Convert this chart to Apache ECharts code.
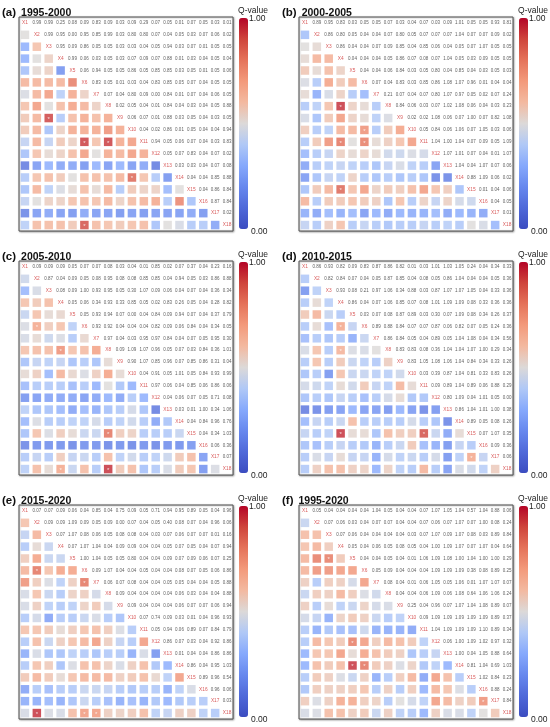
<!DOCTYPE html>
<html>
<head>
<meta charset="utf-8">
<title>Q-value matrices</title>
<script src="https://cdn.jsdelivr.net/npm/echarts@6/dist/echarts.min.js"></script>
<style>
  body { margin: 0; background: #fff; }
  #main { width: 550px; height: 727px; }
</style>
</head>
<body>
<div id="main"></div>
<script>
var labels = ['X1','X2','X3','X4','X5','X6','X7','X8','X9','X10','X11','X12','X13','X14','X15','X16','X17','X18'];
var letters = ['(a)','(b)','(c)','(d)','(e)','(f)'];
var periods = ['1995-2000','2000-2005','2005-2010','2010-2015','2015-2020','1995-2020'];

// lower triangle: row X2..X18, columns X1..X(row-1)
var qA = [
  [0.5],
  [0.3,0.6],
  [0.3,0.5,0.55],
  [0.35,0.52,0.55,0.2],
  [0.65,0.65,0.65,0.65,0.8],
  [0.48,0.65,0.72,0.4,0.68,0.55],
  [0.6,0.72,0.5,0.62,0.7,0.65,0.55],
  [0.58,0.65,0.92,0.38,0.62,0.68,0.62,0.68],
  [0.58,0.65,0.35,0.55,0.68,0.68,0.68,0.75,0.68],
  [0.42,0.65,0.42,0.58,0.55,0.93,0.6,0.93,0.68,0.72],
  [0.35,0.6,0.52,0.55,0.62,0.72,0.5,0.68,0.65,0.72,0.68],
  [0.12,0.22,0.3,0.25,0.25,0.2,0.3,0.22,0.3,0.22,0.25,0.12],
  [0.38,0.6,0.62,0.58,0.5,0.62,0.62,0.62,0.65,0.85,0.6,0.38,0.2],
  [0.35,0.65,0.4,0.48,0.52,0.62,0.52,0.65,0.38,0.58,0.55,0.55,0.32,0.5],
  [0.42,0.5,0.55,0.55,0.6,0.62,0.6,0.65,0.55,0.62,0.65,0.68,0.38,0.78,0.35],
  [0.15,0.22,0.25,0.22,0.2,0.25,0.22,0.22,0.2,0.22,0.2,0.22,0.22,0.22,0.25,0.2],
  [0.4,0.62,0.62,0.62,0.58,0.9,0.62,0.6,0.58,0.6,0.62,0.35,0.5,0.47,0.38,0.38,0.25]
];
// upper triangle: row X1..X17, columns X(row+1)..X18
var pA = [
  [0.99,0.99,0.25,0.08,0.09,0.83,0.09,0.03,0.09,0.29,0.07,0.05,0.01,0.07,0.05,0.03,0.01],
  [0.99,0.95,0.00,0.95,0.85,0.99,0.03,0.80,0.80,0.07,0.04,0.05,0.03,0.07,0.06,0.02],
  [0.95,0.09,0.86,0.05,0.05,0.03,0.03,0.04,0.05,0.94,0.03,0.07,0.01,0.05,0.05],
  [0.99,0.06,0.03,0.05,0.03,0.07,0.09,0.07,0.88,0.01,0.03,0.04,0.05,0.04],
  [0.06,0.94,0.05,0.05,0.86,0.05,0.85,0.85,0.03,0.05,0.01,0.05,0.06],
  [0.83,0.05,0.01,0.03,0.04,0.83,0.85,0.05,0.07,0.04,0.05,0.05],
  [0.07,0.04,0.80,0.09,0.00,0.84,0.01,0.07,0.04,0.06,0.05],
  [0.02,0.05,0.04,0.01,0.84,0.04,0.03,0.04,0.05,0.88],
  [0.06,0.07,0.01,0.88,0.03,0.05,0.04,0.03,0.05],
  [0.04,0.02,0.86,0.01,0.05,0.04,0.04,0.94],
  [0.94,0.05,0.06,0.07,0.04,0.03,0.83],
  [0.05,0.07,0.83,0.04,0.07,0.02],
  [0.03,0.03,0.04,0.07,0.08],
  [0.04,0.04,0.85,0.88],
  [0.04,0.86,0.84],
  [0.87,0.84],
  [0.02]
];
var starA = [[9,3],[11,6],[11,8],[14,10],[18,6]];

var qB = [
  [0.35],
  [0.5,0.52],
  [0.52,0.65,0.65],
  [0.58,0.52,0.62,0.55],
  [0.48,0.38,0.7,0.58,0.65],
  [0.52,0.28,0.47,0.55,0.38,0.32],
  [0.38,0.4,0.6,0.95,0.55,0.52,0.38],
  [0.47,0.35,0.58,0.72,0.55,0.52,0.4,0.48],
  [0.57,0.38,0.4,0.65,0.65,0.75,0.38,0.58,0.7],
  [0.38,0.58,0.75,0.82,0.5,0.8,0.52,0.56,0.6,0.72],
  [0.32,0.38,0.42,0.55,0.52,0.55,0.52,0.45,0.44,0.48,0.46],
  [0.25,0.38,0.4,0.42,0.4,0.38,0.35,0.42,0.47,0.4,0.38,0.22],
  [0.22,0.35,0.42,0.4,0.55,0.38,0.35,0.38,0.35,0.38,0.35,0.15,0.15],
  [0.35,0.58,0.65,0.85,0.6,0.72,0.55,0.58,0.57,0.62,0.72,0.6,0.57,0.35],
  [0.65,0.38,0.58,0.58,0.6,0.58,0.56,0.35,0.6,0.38,0.55,0.42,0.55,0.46,0.44],
  [0.28,0.25,0.32,0.28,0.32,0.22,0.3,0.25,0.3,0.28,0.28,0.32,0.25,0.3,0.28,0.25],
  [0.42,0.38,0.56,0.6,0.38,0.42,0.38,0.36,0.38,0.38,0.42,0.38,0.4,0.38,0.5,0.47,0.32]
];
var pB = [
  [0.89,0.95,0.83,0.03,0.05,0.05,0.07,0.03,0.04,0.07,0.03,0.09,1.01,0.05,0.05,0.93,0.81],
  [0.86,0.80,0.05,0.04,0.04,0.07,0.80,0.05,0.07,0.07,0.07,1.04,0.07,0.07,0.09,0.02],
  [0.86,0.04,0.04,0.07,0.09,0.85,0.04,0.85,0.06,0.04,0.05,0.07,1.07,0.05,0.05],
  [0.04,0.04,0.04,0.05,0.86,0.07,0.08,0.07,1.04,0.05,0.03,0.09,0.05,0.05],
  [0.04,0.04,0.06,0.84,0.03,0.05,0.80,0.04,0.85,0.04,0.03,0.05,0.03],
  [0.07,0.04,0.83,0.03,0.85,0.86,1.08,1.07,0.96,0.01,0.04,0.04],
  [0.21,0.07,0.04,0.07,0.80,1.07,0.97,0.05,0.02,0.07,0.24],
  [0.84,0.06,0.03,0.07,1.02,1.08,0.06,0.04,0.03,0.23],
  [0.02,0.02,1.08,0.06,0.07,1.00,0.07,0.82,1.08],
  [0.05,0.84,0.06,1.06,0.07,1.05,0.03,0.06],
  [1.04,1.00,1.04,0.07,0.09,0.05,1.09],
  [1.07,1.01,0.07,0.04,0.01,1.07],
  [1.04,0.04,1.07,0.07,0.06],
  [0.88,1.09,0.06,0.02],
  [0.01,0.04,0.06],
  [0.04,0.05],
  [0.01]
];
var starB = [[8,4],[10,6],[11,4],[11,6],[15,4]];

var qC = [
  [0.45],
  [0.32,0.47],
  [0.6,0.58,0.62],
  [0.43,0.6,0.52,0.53],
  [0.48,0.68,0.57,0.6,0.4],
  [0.47,0.52,0.44,0.48,0.38,0.53],
  [0.6,0.62,0.62,0.75,0.6,0.62,0.7],
  [0.35,0.42,0.4,0.42,0.35,0.38,0.35,0.52],
  [0.52,0.56,0.32,0.65,0.53,0.48,0.56,0.7,0.52],
  [0.33,0.38,0.38,0.38,0.33,0.38,0.3,0.5,0.36,0.3],
  [0.2,0.22,0.25,0.25,0.25,0.22,0.25,0.3,0.25,0.38,0.3],
  [0.4,0.35,0.35,0.32,0.25,0.32,0.28,0.35,0.38,0.46,0.35,0.12],
  [0.32,0.48,0.38,0.38,0.4,0.4,0.46,0.38,0.4,0.45,0.38,0.25,0.36],
  [0.35,0.6,0.48,0.57,0.52,0.43,0.43,0.82,0.57,0.55,0.38,0.38,0.38,0.43],
  [0.15,0.18,0.18,0.18,0.15,0.18,0.18,0.15,0.18,0.15,0.18,0.15,0.18,0.18,0.2],
  [0.38,0.42,0.38,0.57,0.42,0.43,0.38,0.62,0.4,0.45,0.38,0.4,0.44,0.58,0.62,0.22],
  [0.4,0.62,0.52,0.68,0.43,0.62,0.38,0.95,0.58,0.62,0.35,0.38,0.47,0.58,0.6,0.2,0.48]
];
var pC = [
  [0.09,0.09,0.09,0.05,0.07,0.07,0.08,0.03,0.04,0.01,0.85,0.02,0.07,0.37,0.04,0.23,0.16],
  [0.87,0.04,0.09,0.05,0.08,0.95,0.08,0.08,0.85,0.85,0.04,0.94,0.05,0.03,0.86,0.88],
  [0.08,0.09,1.00,0.93,0.95,0.05,0.30,1.07,0.09,0.06,0.04,0.07,0.04,0.36,0.34],
  [0.05,0.06,0.34,0.93,0.33,0.85,0.05,0.02,0.83,0.26,0.05,0.04,0.28,0.82],
  [0.05,0.93,0.94,0.07,0.00,0.04,0.84,0.09,0.94,0.07,0.04,0.37,0.79],
  [0.93,0.92,0.04,0.04,0.04,0.82,0.09,0.06,0.84,0.04,0.34,0.05],
  [0.97,0.04,0.03,0.95,0.97,0.84,0.04,0.07,0.05,0.95,0.30],
  [0.09,1.09,1.07,0.96,0.05,0.07,0.03,0.84,0.36,1.01],
  [0.90,1.07,0.85,0.96,0.07,0.85,0.86,0.31,0.04],
  [0.04,0.91,0.05,1.01,0.05,0.84,0.93,0.99],
  [0.97,0.06,0.04,0.85,0.06,0.86,0.06],
  [0.04,0.06,0.07,0.05,0.71,0.08],
  [0.03,0.01,1.00,0.34,1.06],
  [0.04,0.84,0.96,0.76],
  [0.04,0.34,1.03],
  [0.06,0.36],
  [0.07]
];
var starC = [[6,2],[8,4],[15,8],[18,4],[18,8]];

var qD = [
  [0.38],
  [0.2,0.4],
  [0.38,0.52,0.4],
  [0.58,0.65,0.43,0.38],
  [0.38,0.52,0.33,0.68,0.42],
  [0.33,0.38,0.35,0.38,0.28,0.43],
  [0.47,0.6,0.38,0.65,0.48,0.47,0.5],
  [0.38,0.6,0.38,0.58,0.43,0.4,0.38,0.56],
  [0.35,0.38,0.2,0.6,0.43,0.43,0.4,0.4,0.45],
  [0.46,0.44,0.4,0.52,0.45,0.58,0.42,0.4,0.64,0.52],
  [0.35,0.38,0.35,0.42,0.38,0.33,0.38,0.46,0.52,0.36,0.36],
  [0.12,0.15,0.2,0.22,0.3,0.22,0.22,0.2,0.3,0.22,0.15,0.2],
  [0.32,0.42,0.38,0.43,0.62,0.38,0.38,0.38,0.38,0.46,0.38,0.35,0.15],
  [0.42,0.38,0.4,0.95,0.52,0.52,0.35,0.62,0.57,0.57,0.9,0.43,0.25,0.52],
  [0.35,0.33,0.38,0.42,0.38,0.36,0.28,0.38,0.43,0.58,0.33,0.28,0.2,0.42,0.38],
  [0.38,0.47,0.42,0.52,0.42,0.42,0.28,0.46,0.4,0.43,0.38,0.46,0.2,0.4,0.68,0.42],
  [0.38,0.56,0.62,0.62,0.56,0.55,0.3,0.55,0.4,0.38,0.65,0.38,0.22,0.47,0.45,0.4,0.56]
];
var pD = [
  [0.86,0.93,0.82,0.09,0.83,0.87,0.86,0.82,0.01,0.03,1.01,1.03,1.05,0.24,0.04,0.34,0.33],
  [0.82,0.84,0.07,0.04,0.05,0.87,0.85,0.04,0.08,0.05,0.86,1.04,0.04,0.04,0.05,0.36],
  [0.93,0.08,0.21,0.97,1.06,0.34,0.88,0.03,0.87,1.07,1.07,1.05,0.04,0.33,0.36],
  [0.86,0.04,0.07,1.06,0.85,0.07,0.08,1.01,1.09,1.09,0.08,0.33,0.36,0.36],
  [0.03,0.07,0.08,0.87,0.89,0.03,0.30,0.07,1.09,0.08,0.34,0.26,0.37],
  [0.89,0.88,0.84,0.07,0.07,0.87,0.06,0.82,0.07,0.05,0.24,0.36],
  [0.86,0.84,0.05,0.04,0.89,0.05,1.04,1.08,0.04,0.34,0.56],
  [0.83,0.83,0.08,0.36,1.04,1.04,1.07,1.00,0.29,0.34],
  [0.83,1.05,1.08,1.06,1.04,0.84,0.34,0.33,0.26],
  [0.03,0.39,0.87,1.04,0.81,0.33,0.83,0.26],
  [0.09,0.89,1.04,0.89,0.06,0.88,0.29],
  [0.80,1.09,0.04,1.01,0.05,0.00],
  [0.86,1.04,1.01,1.00,0.38],
  [0.89,0.05,0.08,0.26],
  [0.07,1.07,0.35],
  [0.09,0.36],
  [0.06]
];
var starD = [[6,4],[8,4],[15,4],[15,11],[17,15]];

var qE = [
  [0.6],
  [0.42,0.65],
  [0.38,0.52,0.43],
  [0.57,0.7,0.43,0.43],
  [0.65,0.82,0.6,0.7,0.7],
  [0.75,0.57,0.48,0.4,0.56,0.82],
  [0.47,0.6,0.43,0.38,0.55,0.56,0.46],
  [0.47,0.56,0.4,0.38,0.4,0.55,0.58,0.46],
  [0.38,0.46,0.25,0.38,0.38,0.43,0.47,0.38,0.35],
  [0.6,0.6,0.58,0.52,0.57,0.6,0.62,0.57,0.48,0.38],
  [0.38,0.62,0.43,0.56,0.6,0.65,0.72,0.56,0.42,0.38,0.72],
  [0.28,0.47,0.35,0.35,0.4,0.38,0.35,0.38,0.38,0.28,0.47,0.2],
  [0.38,0.6,0.57,0.35,0.48,0.62,0.62,0.55,0.47,0.56,0.62,0.36,0.3],
  [0.58,0.65,0.58,0.52,0.6,0.65,0.65,0.65,0.56,0.58,0.62,0.53,0.4,0.72],
  [0.25,0.38,0.33,0.38,0.38,0.43,0.43,0.42,0.38,0.36,0.38,0.38,0.28,0.4,0.47],
  [0.28,0.28,0.32,0.28,0.35,0.43,0.38,0.33,0.28,0.33,0.28,0.36,0.3,0.36,0.38,0.38],
  [0.47,0.95,0.48,0.47,0.62,0.72,0.72,0.56,0.55,0.57,0.62,0.4,0.42,0.56,0.56,0.4,0.38]
];
var pE = [
  [0.07,0.07,0.09,0.06,0.04,0.85,0.04,0.75,0.09,0.05,0.71,0.94,0.95,0.89,0.05,0.04,0.96],
  [0.09,0.09,1.09,0.09,0.05,0.09,0.00,0.07,0.04,0.05,0.40,0.08,0.07,0.04,0.96,0.06],
  [0.07,1.07,0.08,0.06,0.05,0.08,0.08,0.04,0.03,0.07,0.06,0.07,0.07,0.01,0.16],
  [0.07,1.07,1.04,0.04,0.09,0.09,0.04,0.04,0.05,0.07,0.05,0.04,0.07,0.94],
  [1.00,1.04,0.05,0.05,0.80,0.04,0.04,0.09,0.07,0.09,0.06,0.07,0.25],
  [0.09,1.07,0.04,0.04,0.05,0.04,0.04,0.08,0.07,0.05,0.06,0.86],
  [0.06,0.07,0.08,0.04,0.04,0.05,0.05,0.04,0.04,0.05,0.88],
  [0.09,0.04,0.04,0.04,0.04,0.06,0.03,0.04,0.04,0.88],
  [0.09,0.04,0.04,0.04,0.06,0.07,0.07,0.06,0.94],
  [0.07,0.74,0.09,0.03,0.01,0.04,0.96,0.93],
  [0.05,0.94,0.06,0.89,0.07,0.84,0.79],
  [0.86,0.07,0.03,0.04,0.92,0.86],
  [0.01,0.04,0.04,0.86,0.86],
  [0.86,0.04,0.95,1.03],
  [0.89,0.96,0.54],
  [0.96,0.06],
  [0.03]
];
var starE = [[6,2],[7,6],[18,2],[18,6],[18,7]];

var qF = [
  [0.43],
  [0.62,0.62],
  [0.6,0.65,0.57],
  [0.65,0.8,0.8,0.58],
  [0.65,0.75,0.75,0.72,0.72],
  [0.56,0.38,0.57,0.56,0.46,0.72],
  [0.43,0.57,0.56,0.65,0.57,0.48,0.45],
  [0.56,0.38,0.52,0.4,0.43,0.55,0.46,0.47],
  [0.46,0.42,0.28,0.55,0.58,0.56,0.43,0.38,0.4],
  [0.38,0.28,0.36,0.33,0.33,0.44,0.28,0.28,0.28,0.25],
  [0.38,0.65,0.6,0.58,0.8,0.72,0.57,0.65,0.62,0.58,0.4],
  [0.3,0.6,0.6,0.72,0.52,0.7,0.62,0.58,0.56,0.35,0.38,0.42],
  [0.3,0.62,0.58,0.62,0.95,0.82,0.58,0.56,0.48,0.55,0.36,0.4,0.3],
  [0.38,0.58,0.56,0.48,0.43,0.56,0.28,0.38,0.57,0.65,0.25,0.72,0.62,0.38],
  [0.36,0.57,0.56,0.56,0.57,0.6,0.38,0.56,0.38,0.57,0.3,0.65,0.6,0.48,0.38],
  [0.57,0.48,0.56,0.68,0.68,0.57,0.55,0.38,0.5,0.46,0.4,0.72,0.65,0.56,0.58,0.75],
  [0.47,0.48,0.62,0.62,0.56,0.58,0.43,0.56,0.4,0.38,0.3,0.56,0.47,0.47,0.4,0.5,0.58]
];
var pF = [
  [0.05,0.04,0.04,0.04,0.04,1.04,0.05,0.04,0.04,0.07,1.07,1.05,1.04,0.57,1.04,0.88,0.06],
  [0.07,0.06,0.03,0.04,0.07,0.07,0.04,0.04,0.07,0.06,0.07,1.07,0.07,1.00,0.08,0.24],
  [0.07,0.06,0.04,0.04,0.04,0.04,0.03,0.07,1.07,0.09,1.07,0.08,0.03,0.89,0.84],
  [0.05,0.04,0.06,0.05,0.08,0.05,0.04,1.00,1.09,1.07,0.07,1.07,0.04,0.64],
  [0.04,0.04,0.05,0.04,0.01,1.06,1.09,1.08,1.00,1.04,1.00,1.00,0.29],
  [0.05,0.09,0.04,0.04,0.04,1.09,1.09,1.09,0.38,0.08,0.89,0.25],
  [0.08,0.04,0.01,0.06,1.05,0.05,1.06,0.01,1.07,1.07,0.07],
  [0.04,0.04,0.06,1.09,0.06,1.08,0.64,1.06,1.06,0.24],
  [0.25,0.04,0.96,0.07,1.07,1.04,1.08,0.89,0.07],
  [0.09,1.09,1.09,1.09,1.09,1.09,0.89,0.37],
  [1.04,1.09,1.09,1.09,1.10,0.89,0.34],
  [0.06,1.00,1.09,1.02,0.97,0.32],
  [1.00,0.04,1.05,0.88,0.64],
  [0.81,1.04,0.69,1.03],
  [1.02,0.84,0.23],
  [0.88,0.24],
  [0.84]
];
var starF = [[5,3],[12,5],[14,5],[14,6],[17,16]];

var qList = [qA, qB, qC, qD, qE, qF];
var pList = [pA, pB, pC, pD, pE, pF];
var starList = [starA, starB, starC, starD, starE, starF];

// coolwarm-like ramp
var coolwarm = ['#3b4cc0','#4f69d9','#6788ee','#86a9fc','#b0c8f6','#dcd9d8',
                '#f3b9a0','#f39a7b','#e5735a','#cf453c','#b40426'];
var font = 'Liberation Sans, Arial, sans-serif';

var myChart = echarts.init(document.getElementById('main'));

var boxLeft = [19, 299], boxTop = [17, 261, 505], boxW = 214, boxH = 214;
var option = {
  backgroundColor: '#fff',
  animation: false,
  title: [], grid: [], xAxis: [], yAxis: [], series: [], visualMap: [], graphic: []
};

for (var p = 0; p < 6; p++) {
  var L = boxLeft[p % 2], T = boxTop[Math.floor(p / 2)];
  var q = qList[p], pv = pList[p], stars = starList[p];

  option.title.push({
    left: L - 17, top: T - 13, padding: 0,
    text: '{b|' + letters[p] + '} {n|' + periods[p] + '}',
    textStyle: { rich: {
      b: { fontFamily: font, fontWeight: 'bold', fontSize: 11.5, color: '#111' },
      n: { fontFamily: font, fontSize: 10.5, color: '#111' }
    } }
  });

  option.grid.push({
    left: L, top: T, width: boxW, height: boxH, show: true,
    borderColor: '#555', borderWidth: 1, backgroundColor: '#fff',
    shadowColor: 'rgba(0,0,0,0.35)', shadowBlur: 2, shadowOffsetX: 0.5, shadowOffsetY: 0.5
  });
  option.xAxis.push({ gridIndex: p, type: 'category', data: labels, show: false });
  option.yAxis.push({ gridIndex: p, type: 'category', data: labels, inverse: true, show: false });

  var sq = [];
  for (var i = 0; i < q.length; i++) {
    for (var j = 0; j < q[i].length; j++) {
      var item = { value: [j, i + 1, q[i][j]] };
      for (var s = 0; s < stars.length; s++) {
        if (stars[s][0] === i + 2 && stars[s][1] === j + 1) {
          item.label = { show: true, formatter: '*', color: '#fff', fontSize: 6,
                         fontFamily: font, position: 'inside', offset: [0, 1.2] };
        }
      }
      sq.push(item);
    }
  }
  var diag = labels.map(function (lab, k) { return { name: lab, value: [k, k] }; });
  var nums = [];
  for (var i = 0; i < pv.length; i++) {
    for (var j = 0; j < pv[i].length; j++) {
      nums.push({ value: [i + j + 1, i, pv[i][j]] });
    }
  }

  option.series.push({
    type: 'scatter', xAxisIndex: p, yAxisIndex: p, symbol: 'rect', symbolSize: 8.5,
    silent: true, data: sq, label: { show: false }
  });
  option.series.push({
    type: 'scatter', xAxisIndex: p, yAxisIndex: p, symbolSize: 0, silent: true,
    itemStyle: { color: 'rgba(0,0,0,0)' }, data: diag,
    label: { show: true, position: 'inside', formatter: '{b}', color: '#d0302f',
             fontSize: 4.8, fontFamily: font }
  });
  option.series.push({
    type: 'scatter', xAxisIndex: p, yAxisIndex: p, symbolSize: 0, silent: true,
    itemStyle: { color: 'rgba(0,0,0,0)' }, data: nums,
    label: { show: true, position: 'inside', color: '#333', fontSize: 4.5, fontFamily: font,
             formatter: function (d) { return d.value[2].toFixed(2); } }
  });

  var cbx = L + boxW + 6;
  option.visualMap.push({
    type: 'continuous', min: 0, max: 1, dimension: 2, seriesIndex: 3 * p,
    inRange: { color: coolwarm }, calculable: false, show: true, padding: 0,
    left: cbx, top: T + 1, itemWidth: 9, itemHeight: boxH - 3, orient: 'vertical'
  });
  option.graphic.push(
    { type: 'text', x: cbx + 14, y: T - 6,
      style: { text: 'Q-value', fill: '#222', font: '8.5px ' + font, textAlign: 'center', textVerticalAlign: 'middle' } },
    { type: 'text', x: cbx + 10, y: T + 2,
      style: { text: '1.00', fill: '#222', font: '8.5px ' + font, textAlign: 'left', textVerticalAlign: 'middle' } },
    { type: 'text', x: cbx + 12, y: T + boxH + 1,
      style: { text: '0.00', fill: '#222', font: '8.5px ' + font, textAlign: 'left', textVerticalAlign: 'middle' } }
  );
}

myChart.setOption(option);
</script>
</body>
</html>
